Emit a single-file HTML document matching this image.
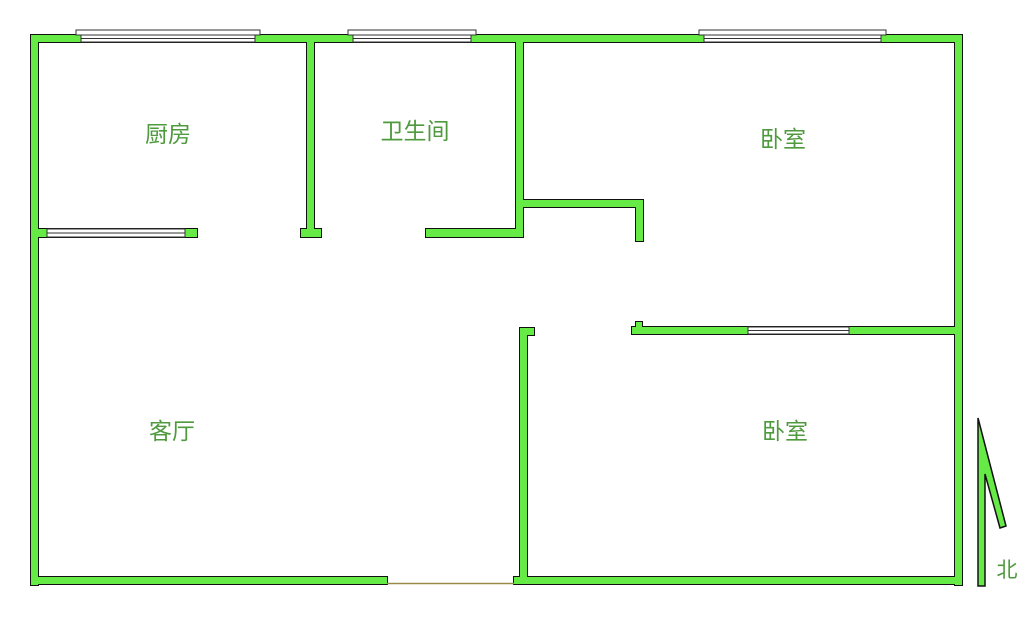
<!DOCTYPE html>
<html><head><meta charset="utf-8"><style>
html,body{margin:0;padding:0;background:#fff;width:1024px;height:641px;overflow:hidden}
svg{display:block}
text{font-family:"Liberation Sans","Noto Sans CJK SC",sans-serif;font-size:23px;fill:#4f9a3e}
</style></head><body>
<svg width="1024" height="641" viewBox="0 0 1024 641" xmlns="http://www.w3.org/2000/svg">
<defs>
<g id="w">
<rect x="31" y="35" width="7" height="550"/>
<rect x="31" y="35" width="931" height="7"/>
<rect x="955" y="35" width="7" height="550"/>
<rect x="31" y="577" width="356" height="7"/>
<rect x="514" y="577" width="448" height="7"/>
<rect x="307" y="35" width="7" height="202"/>
<rect x="301" y="229" width="20" height="8"/>
<rect x="31" y="229" width="166" height="8"/>
<rect x="516" y="35" width="7" height="202"/>
<rect x="426" y="229" width="97" height="8"/>
<rect x="516" y="200" width="127" height="7"/>
<rect x="636" y="200" width="7" height="41"/>
<rect x="632" y="327" width="330" height="7"/>
<rect x="636" y="322" width="6" height="10"/>
<rect x="520" y="328" width="7" height="256"/>
<rect x="520" y="328" width="14" height="7"/>
</g>
</defs>
<use href="#w" fill="#66ea46" stroke="#111" stroke-width="2"/>
<use href="#w" fill="#66ea46"/>
<!-- windows -->
<g fill="#fff" stroke="#333" stroke-width="1">
<rect x="76" y="30" width="184" height="5"/>
<rect x="81" y="35" width="174" height="7"/>
<rect x="348" y="30" width="128" height="5"/>
<rect x="353" y="35" width="118" height="7"/>
<rect x="699" y="30" width="187" height="5"/>
<rect x="704" y="35" width="177" height="7"/>
<rect x="47" y="229" width="138" height="8"/>
<rect x="748" y="327" width="101" height="7"/>
</g>
<g stroke="#333" stroke-width="1">
<line x1="81" y1="38.5" x2="255" y2="38.5"/>
<line x1="353" y1="38.5" x2="471" y2="38.5"/>
<line x1="704" y1="38.5" x2="881" y2="38.5"/>
<line x1="47" y1="233" x2="185" y2="233"/>
<line x1="748" y1="330.5" x2="849" y2="330.5"/>
</g>
<line x1="387" y1="583.5" x2="514" y2="583.5" stroke="#9a8a4a" stroke-width="1.5"/>
<!-- compass -->
<polygon points="978,418 1006,526 1000,528 985,474 985,586 978,586" fill="#66ea46" stroke="#111" stroke-width="1.5"/>
<text x="168" y="142" text-anchor="middle">厨房</text>
<text x="415" y="139" text-anchor="middle">卫生间</text>
<text x="783" y="147" text-anchor="middle">卧室</text>
<text x="172" y="439" text-anchor="middle">客厅</text>
<text x="785" y="439" text-anchor="middle">卧室</text>
<text x="1007" y="577" text-anchor="middle" style="font-size:21px">北</text>
</svg>
</body></html>
